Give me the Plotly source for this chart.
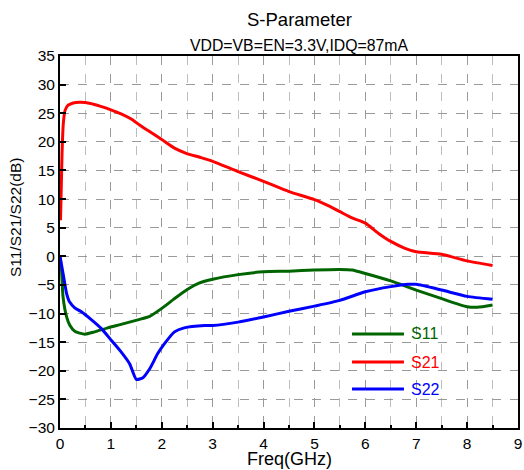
import plotly.graph_objects as go

# S21
f21 = [0.01, 0.04, 0.065, 0.1, 0.16, 0.26, 0.4, 0.6, 0.8, 1.0, 1.2, 1.4, 1.57, 1.76, 2.0, 2.25, 2.48, 2.75, 3.0, 3.5, 4.0, 4.5, 5.0, 5.28, 5.5, 5.74, 6.0, 6.26, 6.5, 6.78, 7.0, 7.5, 8.0, 8.5]
s21 = [6.3, 18.0, 23.2, 25.5, 26.4, 26.8, 26.9, 26.7, 26.2, 25.6, 24.9, 24.0, 22.9, 21.8, 20.4, 18.9, 18.0, 17.3, 16.6, 14.8, 13.1, 11.3, 9.9, 8.8, 7.8, 6.7, 5.8, 4.0, 2.6, 1.4, 0.8, 0.35, -0.8, -1.6]

# S11
f11 = [0.0, 0.03, 0.06, 0.13, 0.19, 0.29, 0.49, 0.68, 0.94, 1.2, 1.53, 1.76, 2.0, 2.25, 2.5, 2.73, 3.0, 3.5, 4.0, 4.5, 5.0, 5.5, 5.74, 6.0, 6.5, 7.0, 7.5, 8.0, 8.2, 8.5]
s11 = [0.0, -2.4, -7.1, -10.6, -12.0, -13.1, -13.6, -13.2, -12.5, -11.9, -11.1, -10.5, -9.1, -7.4, -5.8, -4.7, -4.0, -3.2, -2.7, -2.6, -2.4, -2.3, -2.4, -3.0, -4.3, -5.9, -7.4, -8.8, -8.9, -8.5]

# S22
f22 = [0.0, 0.06, 0.13, 0.19, 0.29, 0.42, 0.62, 0.81, 1.01, 1.2, 1.37, 1.5, 1.63, 1.76, 1.92, 2.05, 2.25, 2.44, 2.84, 3.0, 3.5, 4.0, 4.5, 5.0, 5.5, 6.0, 6.5, 6.85, 7.0, 7.5, 8.0, 8.5]
s22 = [0.0, -3.0, -6.5, -8.0, -9.0, -9.7, -11.1, -12.6, -14.7, -16.7, -18.8, -21.5, -21.2, -19.7, -17.0, -15.3, -13.2, -12.5, -12.1, -12.1, -11.5, -10.6, -9.6, -8.7, -7.7, -6.2, -5.3, -4.9, -4.9, -5.9, -7.0, -7.5]

names = ["S11", "S21", "S22"]
colors = ["#006400", "#ff0000", "#0000ff"]

x_ticks = [0, 1, 2, 3, 4, 5, 6, 7, 8, 9]
y_ticks = [-30, -25, -20, -15, -10, -5, 0, 5, 10, 15, 20, 25, 30, 35]

FONT = "Liberation Sans, Arial, sans-serif"

fig = go.Figure()
for name, fx, fy, col in zip(names, [f11, f21, f22], [s11, s21, s22], colors):
    fig.add_trace(go.Scatter(
        x=fx, y=fy, mode="lines", name=name,
        line=dict(color=col, width=3, shape="spline", smoothing=0.6),
        showlegend=False,
    ))

# legend drawn as paper-anchored samples (longer line samples than plotly's legend)
leg_y = [0.2527, 0.1774, 0.1048]
shapes = []
annotations = []
for name, col, ly in zip(names, colors, leg_y):
    shapes.append(dict(type="line", xref="paper", yref="paper", x0=0.6376, x1=0.751,
                       y0=ly, y1=ly, line=dict(color=col, width=3)))
    annotations.append(dict(text=name, xref="paper", yref="paper", x=0.762, y=ly,
                            xanchor="left", yanchor="middle", showarrow=False,
                            font=dict(size=16, color=col)))

annotations += [
    dict(text="S-Parameter", xref="paper", yref="paper", x=0.524, y=1.0968,
         xanchor="center", yanchor="middle", showarrow=False, font=dict(size=18.5)),
    dict(text="VDD=VB=EN=3.3V,IDQ=87mA", xref="paper", yref="paper", x=0.524, y=1.0269,
         xanchor="center", yanchor="middle", showarrow=False, font=dict(size=15.8)),
    dict(text="Freq(GHz)", xref="paper", yref="paper", x=0.502, y=-0.083,
         xanchor="center", yanchor="middle", showarrow=False, font=dict(size=18)),
    dict(text="S11/S21/S22(dB)", xref="paper", yref="paper", x=-0.0983, y=0.567,
         xanchor="center", yanchor="middle", showarrow=False, textangle=-90,
         font=dict(size=15.5)),
]

grid = dict(showgrid=True, gridcolor="#9a9a9a", griddash="dash", gridwidth=1)
fig.update_layout(
    width=524, height=470,
    margin=dict(l=60, r=6, t=56, b=42, autoexpand=False),
    paper_bgcolor="white", plot_bgcolor="white",
    font=dict(family=FONT, size=15, color="black"),
    showlegend=False,
    shapes=shapes,
    annotations=annotations,
)
fig.update_xaxes(
    range=[0, 9], tickvals=x_ticks, ticks="inside", ticklen=6, tickcolor="black", tickwidth=1.5,
    showline=True, linecolor="black", linewidth=2, mirror=True, automargin=False,
    tickfont=dict(size=15.5),
    minor=dict(dtick=0.5, ticks="inside", ticklen=3, tickcolor="black",
               showgrid=True, gridcolor="#bdbdbd", griddash="dash"),
    zeroline=False, **grid,
)
fig.update_yaxes(
    range=[-30, 35], tickvals=y_ticks, ticks="inside", ticklen=6, tickcolor="black", tickwidth=1.5,
    showline=True, linecolor="black", linewidth=2, mirror=True, automargin=False,
    tickfont=dict(size=15.5),
    zeroline=False, **grid,
)
fig.write_html("out.html", config={"displayModeBar": False},
               post_script="document.body.style.margin='0';document.body.style.overflow='hidden';")
